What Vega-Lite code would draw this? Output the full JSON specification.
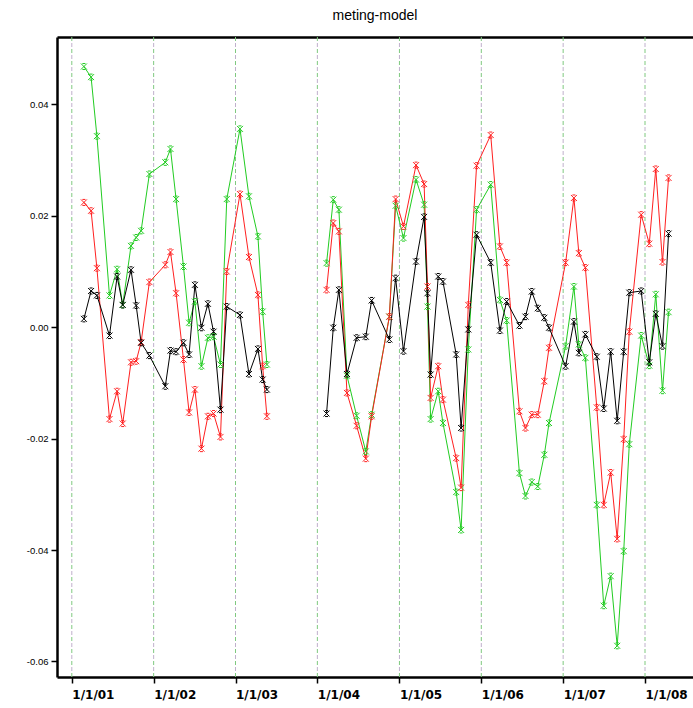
{
"$schema": "https://vega.github.io/schema/vega-lite/v6.json",
"width": 636, "height": 640,
"autosize": {"type": "none"},
"padding": {"left": 57, "top": 37, "right": 0, "bottom": 31},
"background": "white",
"title": {"text": "meting-model", "fontSize": 14, "font": "Liberation Sans", "fontWeight": "normal", "anchor": "middle", "offset": 14, "color": "black"},
"config": {"view": {"stroke": null}},
"datasets": {
"years": [{"date":"2001-01-01"},{"date":"2002-01-01"},{"date":"2003-01-01"},{"date":"2004-01-01"},{"date":"2005-01-01"},{"date":"2006-01-01"},{"date":"2007-01-01"},{"date":"2008-01-01"}],
"series": [
{"s":"s1","seg":1,"date":"2001-02-24","v":0.0468},{"s":"s1","seg":1,"date":"2001-03-28","v":0.0449},{"s":"s1","seg":1,"date":"2001-04-23","v":0.0343},{"s":"s1","seg":1,"date":"2001-06-18","v":0.0057},{"s":"s1","seg":1,"date":"2001-07-22","v":0.0104},{"s":"s1","seg":1,"date":"2001-08-16","v":0.0040},{"s":"s1","seg":1,"date":"2001-09-22","v":0.0146},{"s":"s1","seg":1,"date":"2001-10-15","v":0.0161},{"s":"s1","seg":1,"date":"2001-11-06","v":0.0173},{"s":"s1","seg":1,"date":"2001-12-13","v":0.0275},{"s":"s1","seg":1,"date":"2002-02-22","v":0.0296},{"s":"s1","seg":1,"date":"2002-03-17","v":0.0320},{"s":"s1","seg":1,"date":"2002-04-11","v":0.0230},{"s":"s1","seg":1,"date":"2002-05-14","v":0.0109},{"s":"s1","seg":1,"date":"2002-06-08","v":0.0008},{"s":"s1","seg":1,"date":"2002-07-04","v":0.0046},{"s":"s1","seg":1,"date":"2002-08-02","v":-0.0070},{"s":"s1","seg":1,"date":"2002-08-31","v":-0.0019},{"s":"s1","seg":1,"date":"2002-09-25","v":-0.0017},{"s":"s1","seg":1,"date":"2002-10-26","v":-0.0067},{"s":"s1","seg":1,"date":"2002-11-23","v":0.0230},{"s":"s1","seg":1,"date":"2003-01-21","v":0.0356},{"s":"s1","seg":1,"date":"2003-03-02","v":0.0235},{"s":"s1","seg":1,"date":"2003-04-11","v":0.0163},{"s":"s1","seg":1,"date":"2003-05-02","v":0.0028},{"s":"s1","seg":1,"date":"2003-05-21","v":-0.0067},
{"s":"s1","seg":2,"date":"2004-02-11","v":0.0115},{"s":"s1","seg":2,"date":"2004-03-12","v":0.0229},{"s":"s1","seg":2,"date":"2004-04-06","v":0.0211},{"s":"s1","seg":2,"date":"2004-05-12","v":-0.0087},{"s":"s1","seg":2,"date":"2004-06-24","v":-0.0159},{"s":"s1","seg":2,"date":"2004-08-04","v":-0.0223},{"s":"s1","seg":2,"date":"2004-08-30","v":-0.0157},{"s":"s1","seg":2,"date":"2004-11-17","v":0.0019},{"s":"s1","seg":2,"date":"2004-12-15","v":0.0218},{"s":"s1","seg":2,"date":"2005-01-19","v":0.0160},{"s":"s1","seg":2,"date":"2005-03-16","v":0.0265},{"s":"s1","seg":2,"date":"2005-04-21","v":0.0220},{"s":"s1","seg":2,"date":"2005-05-06","v":0.0037},{"s":"s1","seg":2,"date":"2005-05-20","v":-0.0165},{"s":"s1","seg":2,"date":"2005-06-23","v":-0.0115},{"s":"s1","seg":2,"date":"2005-07-14","v":-0.0172},{"s":"s1","seg":2,"date":"2005-09-11","v":-0.0296},{"s":"s1","seg":2,"date":"2005-10-03","v":-0.0364},{"s":"s1","seg":2,"date":"2005-11-04","v":-0.0040},{"s":"s1","seg":2,"date":"2005-12-11","v":0.0211},{"s":"s1","seg":2,"date":"2006-02-12","v":0.0256},{"s":"s1","seg":2,"date":"2006-03-25","v":0.0049},{"s":"s1","seg":2,"date":"2006-04-24","v":0.0012},{"s":"s1","seg":2,"date":"2006-06-20","v":-0.0262},{"s":"s1","seg":2,"date":"2006-07-17","v":-0.0303},{"s":"s1","seg":2,"date":"2006-08-14","v":-0.0278},{"s":"s1","seg":2,"date":"2006-09-10","v":-0.0286},{"s":"s1","seg":2,"date":"2006-10-09","v":-0.0229},{"s":"s1","seg":2,"date":"2006-10-30","v":-0.0172},{"s":"s1","seg":2,"date":"2007-01-12","v":-0.0034},{"s":"s1","seg":2,"date":"2007-02-18","v":0.0073},{"s":"s1","seg":2,"date":"2007-03-12","v":-0.0031},{"s":"s1","seg":2,"date":"2007-04-10","v":-0.0055},{"s":"s1","seg":2,"date":"2007-05-31","v":-0.0319},{"s":"s1","seg":2,"date":"2007-07-01","v":-0.0500},{"s":"s1","seg":2,"date":"2007-08-01","v":-0.0447},{"s":"s1","seg":2,"date":"2007-08-30","v":-0.0572},{"s":"s1","seg":2,"date":"2007-09-28","v":-0.0402},{"s":"s1","seg":2,"date":"2007-10-23","v":-0.0210},{"s":"s1","seg":2,"date":"2007-12-15","v":-0.0015},{"s":"s1","seg":2,"date":"2008-01-20","v":-0.0069},{"s":"s1","seg":2,"date":"2008-02-18","v":0.0059},{"s":"s1","seg":2,"date":"2008-03-19","v":-0.0114},{"s":"s1","seg":2,"date":"2008-04-15","v":0.0027},
{"s":"s2","seg":1,"date":"2001-02-24","v":0.0224},{"s":"s2","seg":1,"date":"2001-03-28","v":0.0209},{"s":"s2","seg":1,"date":"2001-04-23","v":0.0106},{"s":"s2","seg":1,"date":"2001-06-18","v":-0.0165},{"s":"s2","seg":1,"date":"2001-07-22","v":-0.0115},{"s":"s2","seg":1,"date":"2001-08-16","v":-0.0173},{"s":"s2","seg":1,"date":"2001-09-22","v":-0.0063},{"s":"s2","seg":1,"date":"2001-10-15","v":-0.0061},{"s":"s2","seg":1,"date":"2001-11-06","v":-0.0027},{"s":"s2","seg":1,"date":"2001-12-13","v":0.0081},{"s":"s2","seg":1,"date":"2002-02-22","v":0.0112},{"s":"s2","seg":1,"date":"2002-03-17","v":0.0135},{"s":"s2","seg":1,"date":"2002-04-11","v":0.0061},{"s":"s2","seg":1,"date":"2002-05-14","v":-0.0058},{"s":"s2","seg":1,"date":"2002-06-08","v":-0.0153},{"s":"s2","seg":1,"date":"2002-07-04","v":-0.0112},{"s":"s2","seg":1,"date":"2002-08-02","v":-0.0218},{"s":"s2","seg":1,"date":"2002-08-31","v":-0.0160},{"s":"s2","seg":1,"date":"2002-09-25","v":-0.0155},{"s":"s2","seg":1,"date":"2002-10-26","v":-0.0197},{"s":"s2","seg":1,"date":"2002-11-23","v":0.0100},{"s":"s2","seg":1,"date":"2003-01-21","v":0.0239},{"s":"s2","seg":1,"date":"2003-03-02","v":0.0126},{"s":"s2","seg":1,"date":"2003-04-11","v":0.0058},{"s":"s2","seg":1,"date":"2003-05-02","v":-0.0070},{"s":"s2","seg":1,"date":"2003-05-21","v":-0.0160},
{"s":"s2","seg":2,"date":"2004-02-11","v":0.0067},{"s":"s2","seg":2,"date":"2004-03-12","v":0.0187},{"s":"s2","seg":2,"date":"2004-04-06","v":0.0172},{"s":"s2","seg":2,"date":"2004-05-12","v":-0.0118},{"s":"s2","seg":2,"date":"2004-06-24","v":-0.0177},{"s":"s2","seg":2,"date":"2004-08-04","v":-0.0236},{"s":"s2","seg":2,"date":"2004-08-30","v":-0.0160},{"s":"s2","seg":2,"date":"2004-11-17","v":0.0019},{"s":"s2","seg":2,"date":"2004-12-15","v":0.0230},{"s":"s2","seg":2,"date":"2005-01-19","v":0.0181},{"s":"s2","seg":2,"date":"2005-03-16","v":0.0291},{"s":"s2","seg":2,"date":"2005-04-21","v":0.0257},{"s":"s2","seg":2,"date":"2005-05-06","v":0.0073},{"s":"s2","seg":2,"date":"2005-05-20","v":-0.0127},{"s":"s2","seg":2,"date":"2005-06-23","v":-0.0070},{"s":"s2","seg":2,"date":"2005-07-14","v":-0.0130},{"s":"s2","seg":2,"date":"2005-09-11","v":-0.0235},{"s":"s2","seg":2,"date":"2005-10-03","v":-0.0288},{"s":"s2","seg":2,"date":"2005-11-04","v":0.0040},{"s":"s2","seg":2,"date":"2005-12-11","v":0.0290},{"s":"s2","seg":2,"date":"2006-02-12","v":0.0345},{"s":"s2","seg":2,"date":"2006-03-25","v":0.0145},{"s":"s2","seg":2,"date":"2006-04-24","v":0.0116},{"s":"s2","seg":2,"date":"2006-06-20","v":-0.0151},{"s":"s2","seg":2,"date":"2006-07-17","v":-0.0181},{"s":"s2","seg":2,"date":"2006-08-14","v":-0.0157},{"s":"s2","seg":2,"date":"2006-09-10","v":-0.0157},{"s":"s2","seg":2,"date":"2006-10-09","v":-0.0097},{"s":"s2","seg":2,"date":"2006-10-30","v":-0.0037},{"s":"s2","seg":2,"date":"2007-01-12","v":0.0116},{"s":"s2","seg":2,"date":"2007-02-18","v":0.0232},{"s":"s2","seg":2,"date":"2007-03-12","v":0.0133},{"s":"s2","seg":2,"date":"2007-04-10","v":0.0107},{"s":"s2","seg":2,"date":"2007-05-31","v":-0.0144},{"s":"s2","seg":2,"date":"2007-07-01","v":-0.0319},{"s":"s2","seg":2,"date":"2007-08-01","v":-0.0261},{"s":"s2","seg":2,"date":"2007-08-30","v":-0.0380},{"s":"s2","seg":2,"date":"2007-09-28","v":-0.0201},{"s":"s2","seg":2,"date":"2007-10-23","v":-0.0008},{"s":"s2","seg":2,"date":"2007-12-15","v":0.0202},{"s":"s2","seg":2,"date":"2008-01-20","v":0.0150},{"s":"s2","seg":2,"date":"2008-02-18","v":0.0284},{"s":"s2","seg":2,"date":"2008-03-19","v":0.0117},{"s":"s2","seg":2,"date":"2008-04-15","v":0.0268},
{"s":"s3","seg":1,"date":"2001-02-24","v":0.0015},{"s":"s3","seg":1,"date":"2001-03-28","v":0.0065},{"s":"s3","seg":1,"date":"2001-04-23","v":0.0057},{"s":"s3","seg":1,"date":"2001-06-18","v":-0.0015},{"s":"s3","seg":1,"date":"2001-07-22","v":0.0091},{"s":"s3","seg":1,"date":"2001-08-16","v":0.0040},{"s":"s3","seg":1,"date":"2001-09-22","v":0.0103},{"s":"s3","seg":1,"date":"2001-10-15","v":0.0039},{"s":"s3","seg":1,"date":"2001-11-06","v":-0.0028},{"s":"s3","seg":1,"date":"2001-12-13","v":-0.0051},{"s":"s3","seg":1,"date":"2002-02-22","v":-0.0106},{"s":"s3","seg":1,"date":"2002-03-17","v":-0.0042},{"s":"s3","seg":1,"date":"2002-04-11","v":-0.0044},{"s":"s3","seg":1,"date":"2002-05-14","v":-0.0028},{"s":"s3","seg":1,"date":"2002-06-08","v":-0.0049},{"s":"s3","seg":1,"date":"2002-07-04","v":0.0076},{"s":"s3","seg":1,"date":"2002-08-02","v":-0.0001},{"s":"s3","seg":1,"date":"2002-08-31","v":0.0042},{"s":"s3","seg":1,"date":"2002-09-25","v":-0.0008},{"s":"s3","seg":1,"date":"2002-10-26","v":-0.0148},{"s":"s3","seg":1,"date":"2002-11-23","v":0.0037},{"s":"s3","seg":1,"date":"2003-01-21","v":0.0022},{"s":"s3","seg":1,"date":"2003-03-02","v":-0.0084},{"s":"s3","seg":1,"date":"2003-04-11","v":-0.0039},{"s":"s3","seg":1,"date":"2003-05-02","v":-0.0094},{"s":"s3","seg":1,"date":"2003-05-21","v":-0.0112},
{"s":"s3","seg":2,"date":"2004-02-11","v":-0.0155},{"s":"s3","seg":2,"date":"2004-03-12","v":-0.0001},{"s":"s3","seg":2,"date":"2004-04-06","v":0.0067},{"s":"s3","seg":2,"date":"2004-05-12","v":-0.0084},{"s":"s3","seg":2,"date":"2004-06-24","v":-0.0019},{"s":"s3","seg":2,"date":"2004-08-04","v":-0.0017},{"s":"s3","seg":2,"date":"2004-08-30","v":0.0048},{"s":"s3","seg":2,"date":"2004-11-17","v":-0.0022},{"s":"s3","seg":2,"date":"2004-12-15","v":0.0088},{"s":"s3","seg":2,"date":"2005-01-19","v":-0.0043},{"s":"s3","seg":2,"date":"2005-03-16","v":0.0118},{"s":"s3","seg":2,"date":"2005-04-21","v":0.0198},{"s":"s3","seg":2,"date":"2005-05-06","v":0.0061},{"s":"s3","seg":2,"date":"2005-05-20","v":-0.0085},{"s":"s3","seg":2,"date":"2005-06-23","v":0.0091},{"s":"s3","seg":2,"date":"2005-07-14","v":0.0082},{"s":"s3","seg":2,"date":"2005-09-11","v":-0.0049},{"s":"s3","seg":2,"date":"2005-10-03","v":-0.0181},{"s":"s3","seg":2,"date":"2005-11-04","v":-0.0004},{"s":"s3","seg":2,"date":"2005-12-11","v":0.0166},{"s":"s3","seg":2,"date":"2006-02-12","v":0.0116},{"s":"s3","seg":2,"date":"2006-03-25","v":-0.0006},{"s":"s3","seg":2,"date":"2006-04-24","v":0.0046},{"s":"s3","seg":2,"date":"2006-06-20","v":0.0003},{"s":"s3","seg":2,"date":"2006-07-17","v":0.0019},{"s":"s3","seg":2,"date":"2006-08-14","v":0.0064},{"s":"s3","seg":2,"date":"2006-09-10","v":0.0034},{"s":"s3","seg":2,"date":"2006-10-09","v":0.0017},{"s":"s3","seg":2,"date":"2006-10-30","v":-0.0001},{"s":"s3","seg":2,"date":"2007-01-12","v":-0.0070},{"s":"s3","seg":2,"date":"2007-02-18","v":0.0010},{"s":"s3","seg":2,"date":"2007-03-12","v":-0.0046},{"s":"s3","seg":2,"date":"2007-04-10","v":-0.0013},{"s":"s3","seg":2,"date":"2007-05-31","v":-0.0053},{"s":"s3","seg":2,"date":"2007-07-01","v":-0.0146},{"s":"s3","seg":2,"date":"2007-08-01","v":-0.0044},{"s":"s3","seg":2,"date":"2007-08-30","v":-0.0168},{"s":"s3","seg":2,"date":"2007-09-28","v":-0.0044},{"s":"s3","seg":2,"date":"2007-10-23","v":0.0062},{"s":"s3","seg":2,"date":"2007-12-15","v":0.0065},{"s":"s3","seg":2,"date":"2008-01-20","v":-0.0063},{"s":"s3","seg":2,"date":"2008-02-18","v":0.0024},{"s":"s3","seg":2,"date":"2008-03-19","v":-0.0034},{"s":"s3","seg":2,"date":"2008-04-15","v":0.0168}
]},
"resolve": {"axis": {"x": "independent"}},
"layer": [
{"data": {"name": "years"},
 "mark": {"type": "rule", "stroke": "#7fc97f", "strokeWidth": 1, "strokeDash": [4, 8]},
 "encoding": {"x": {"field": "date", "type": "temporal",
   "scale": {"type": "utc", "domain": [{"year": 2000, "month": 10, "date": 27, "utc": true}, {"year": 2008, "month": 8, "date": 2, "utc": true}], "nice": false},
   "axis": {"orient": "top", "title": null, "labels": false, "ticks": false, "grid": false, "domain": true, "domainColor": "#000000", "domainWidth": 2.5}}}},
{"data": {"name": "years"},
 "mark": {"type": "rule", "stroke": "#c0b0cc", "strokeWidth": 1, "strokeDash": [4, 8], "strokeDashOffset": 6},
 "encoding": {"x": {"field": "date", "type": "temporal", "axis": null}}},
{"data": {"name": "series"},
 "mark": {"type": "line", "strokeWidth": 1},
 "encoding": {
   "x": {"field": "date", "type": "temporal",
     "axis": {"orient": "bottom", "title": null, "grid": false, "domainColor": "#000000", "domainWidth": 2.5, "tickColor": "#000000", "tickSize": 6, "tickWidth": 1.5,
       "values": [{"year": 2001, "month": 1, "date": 1, "utc": true}, {"year": 2002, "month": 1, "date": 1, "utc": true}, {"year": 2003, "month": 1, "date": 1, "utc": true}, {"year": 2004, "month": 1, "date": 1, "utc": true}, {"year": 2005, "month": 1, "date": 1, "utc": true}, {"year": 2006, "month": 1, "date": 1, "utc": true}, {"year": 2007, "month": 1, "date": 1, "utc": true}, {"year": 2008, "month": 1, "date": 1, "utc": true}],
       "format": "%-m/%-d/%y", "labelAlign": "left", "labelFont": "DejaVu Sans", "labelFontSize": 12, "labelFontWeight": "bold", "labelColor": "#000000", "labelPadding": 6, "labelFlush": false, "labelOverlap": false}},
   "y": {"field": "v", "type": "quantitative",
     "scale": {"domain": [-0.0628, 0.0521], "nice": false, "zero": false},
     "axis": {"title": null, "grid": false, "values": [-0.06, -0.04, -0.02, 0, 0.02, 0.04], "labelExpr": "replace(format(datum.value, '.2f'), '\u2212', '-')", "domainColor": "#000000", "domainWidth": 2.5, "tickColor": "#000000", "tickSize": 6, "tickWidth": 1.5, "labelFont": "Liberation Sans", "labelFontSize": 9.5, "labelColor": "#000000", "labelPadding": 3}},
   "color": {"field": "s", "type": "nominal", "legend": null, "scale": {"domain": ["s1", "s2", "s3"], "range": ["#22cc22", "#ff2020", "#000000"]}},
   "detail": {"field": "seg", "type": "nominal"}}},
{"data": {"name": "series"},
 "mark": {"type": "point", "shape": "M-1,-1L1,1M-1,1L1,-1M-0.5,-1L0.5,-1M-0.5,1L0.5,1", "size": 36, "filled": false, "strokeWidth": 1, "opacity": 1},
 "encoding": {
   "x": {"field": "date", "type": "temporal", "axis": null},
   "y": {"field": "v", "type": "quantitative"},
   "color": {"field": "s", "type": "nominal", "legend": null}}}
]
}
